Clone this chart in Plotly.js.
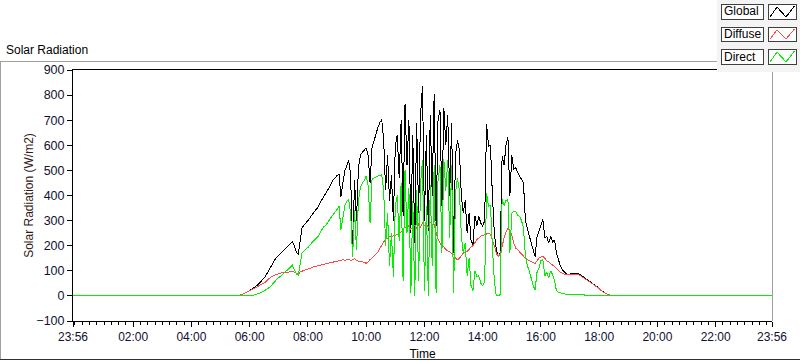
<!DOCTYPE html>
<html>
<head>
<meta charset="utf-8">
<script src="https://cdn.plot.ly/plotly-3.0.1.min.js"></script>
<style>html,body{margin:0;padding:0;background:#fff;}#chart{width:800px;height:361px;}
#chart path.js-line{shape-rendering:crispEdges;}
#chart .shapelayer path{shape-rendering:crispEdges;}
</style>
</head>
<body>
<div id="chart"></div>
<script>
// Time of day in minutes (23:56 of previous day = -4)
const timeMinutes = [-4,
 332,336,340,344,348,352,356,360,364,368,
 372,376,380,384,388,392,396,400,404,408,
 412,416,420,424,428,432,436,440,444,448,
 452,456,460,464,468,472,476,480,484,488,
 492,496,500,504,508,512,516,520,524,528,
 532,536,540,544,548,552,556,560,564,568,
 572,576,580,584,588,592,596,600,604,608,
 612,616,620,624,628,632,636,640,644,648,
 652,656,660,664,668,672,676,680,684,688,
 692,696,700,704,708,712,716,720,724,728,
 732,736,740,744,748,752,756,760,764,768,
 772,776,780,784,788,792,796,800,804,808,
 812,816,820,824,828,832,836,840,844,848,
 852,856,860,864,868,872,876,880,884,888,
 892,896,900,904,908,912,916,920,924,928,
 932,936,940,944,948,952,956,960,964,968,
 972,976,980,984,988,992,996,1000,1004,1008,
 1012,1016,1020,1024,1028,1032,1036,1040,1044,1048,
 1052,1056,1060,1064,1068,1072,1076,1080,1084,1088,
 1092,1096,1100,1104,1108,
 1436];

const globalRad = [0,
 0,1,3,6,9,13,17,21,26,31,
 37,43,50,58,67,77,90,105,120,133,
 145,155,163,170,180,188,196,205,212,217,
 200,175,165,230,273,282,290,298,310,322,
 332,345,352,368,382,397,405,420,432,448,
 462,470,480,484,395,450,500,517,540,480,
 165,460,300,510,560,572,580,590,560,451,
 590,620,650,670,690,703,620,420,560,380,
 480,300,600,640,470,700,320,763,520,700,
 250,640,210,690,330,720,836,300,640,260,
 720,400,803,280,700,740,360,750,600,720,
 400,690,170,560,620,580,400,330,380,250,
 330,220,205,320,280,317,290,277,300,684,
 597,600,400,250,184,157,170,557,520,600,
 631,397,560,504,510,490,477,465,450,300,
 264,240,210,180,157,237,260,290,304,230,
 237,210,237,215,223,170,144,120,104,95,
 88,86,87,89,91,92,91,86,80,74,
 68,63,57,52,47,42,37,31,22,16,
 11,7,4,2,0,
 0];

const diffuseRad = [0,
 0,1,3,6,9,13,16,20,24,28,
 32,36,41,45,50,55,62,70,76,80,
 84,87,89,91,92,93,94,95,96,97,
 95,90,86,95,100,102,104,106,108,112,
 116,118,120,122,123,124,126,128,130,132,
 134,136,140,142,143,144,142,145,146,140,
 143,148,140,140,138,136,133,130,135,145,
 150,157,165,175,190,200,215,225,230,235,
 235,240,240,245,250,255,265,275,270,280,
 265,275,280,270,285,275,290,280,290,270,
 295,280,285,255,225,210,200,195,185,180,
 175,170,165,150,144,150,160,170,175,177,
 185,195,200,215,225,230,238,240,243,248,
 250,245,225,200,170,157,165,200,230,255,
 270,260,240,210,190,184,175,165,155,150,
 145,140,135,132,130,140,150,155,157,150,
 140,135,130,125,117,110,100,95,90,86,
 84,84,84,85,86,86,86,82,77,72,
 66,61,56,51,46,41,36,30,21,15,
 11,7,4,2,0,
 0];

const directRad = [0,
 0,0,0,0,0,0,0,1,2,3,
 5,7,9,13,18,22,27,33,40,50,
 58,66,74,78,86,94,101,110,117,122,
 105,88,82,135,172,180,186,193,203,212,
 218,228,234,248,262,275,280,292,302,316,
 326,335,345,357,264,310,360,377,384,330,
 155,344,184,380,430,450,460,477,440,290,
 464,470,475,477,480,483,420,200,330,120,
 250,77,360,400,220,450,60,500,250,430,
 10,380,0,420,60,450,540,20,360,0,
 440,120,520,10,460,520,170,545,420,540,
 230,520,10,410,470,420,240,170,210,80,
 150,40,20,100,77,80,51,40,55,410,
 357,360,197,60,0,0,5,384,360,380,
 384,170,330,337,337,320,317,300,270,160,
 120,100,70,40,25,95,110,140,144,80,
 95,70,100,85,60,20,15,12,10,8,
 6,5,5,5,6,6,5,5,4,4,
 3,3,2,2,1,1,1,0,0,0,
 0,0,0,0,0,
 0];

const seriesNames = ['Global', 'Diffuse', 'Direct'];
const seriesColors = ['#000000', '#ff4a4a', '#00f000'];
const xTickVals = [-4/60, 2, 4, 6, 8, 10, 12, 14, 16, 18, 20, 22, 23 + 56/60];
const xTickText = ['23:56','02:00','04:00','06:00','08:00','10:00','12:00','14:00','16:00','18:00','20:00','22:00','23:56'];

const hours = timeMinutes.map(m => m / 60);
const seriesData = [globalRad, diffuseRad, directRad];

const traces = seriesData.map((vals, i) => ({
  type: 'scatter', mode: 'lines', x: hours, y: vals, name: seriesNames[i],
  line: {color: seriesColors[i], width: 1}, hoverinfo: 'skip'
}));

// pixel -> paper helpers
const L = 73, R = 772, T = 70, B = 321;
const PX = p => (p - L) / (R - L);
const PY = p => (B - p) / (B - T);
const FONT = 'Liberation Sans, Arial, sans-serif';

const shapes = [];
const annotations = [];

// outer frame
shapes.push({type:'line', xref:'paper', yref:'paper', x0:PX(0), x1:PX(717), y0:PY(61.5), y1:PY(61.5), line:{color:'#a0a0a0', width:1}});
shapes.push({type:'line', xref:'paper', yref:'paper', x0:PX(0.5), x1:PX(0.5), y0:PY(61.5), y1:PY(359.5), line:{color:'#a0a0a0', width:1}});
shapes.push({type:'line', xref:'paper', yref:'paper', x0:PX(0), x1:PX(800), y0:PY(359.5), y1:PY(359.5), line:{color:'#303030', width:1}});
// plot area right border (grey)
shapes.push({type:'line', xref:'paper', yref:'paper', x0:1, x1:1, y0:0, y1:1, line:{color:'#a0a0a0', width:1}});
// legend panel
shapes.push({type:'rect', xref:'paper', yref:'paper', x0:PX(717), x1:PX(801), y0:PY(0), y1:PY(72), fillcolor:'#f4f4f4', line:{width:0}});

const rowTop = [4, 27, 49], rowBot = [19, 41, 64];
seriesNames.forEach((nm, i) => {
  const yt = rowTop[i], yb = rowBot[i];
  shapes.push({type:'rect', xref:'paper', yref:'paper', x0:PX(721), x1:PX(763), y0:PY(yb), y1:PY(yt), fillcolor:'#ffffff', line:{color:'#404040', width:1}});
  shapes.push({type:'rect', xref:'paper', yref:'paper', x0:PX(768), x1:PX(796), y0:PY(yb), y1:PY(yt), fillcolor:'#ffffff', line:{color:'#404040', width:1}});
  const pts = [[770, yb-2], [777, yt+3], [786, yb-2], [794.5, yt+2]];
  const path = 'M' + pts.map(p => PX(p[0]) + ',' + PY(p[1])).join(' L');
  shapes.push({type:'path', xref:'paper', yref:'paper', path: path, line:{color: seriesColors[i], width:1}});
  annotations.push({xref:'paper', yref:'paper', x:PX(722), y:PY((yt+yb)/2), text:nm, showarrow:false, xanchor:'left', yanchor:'middle', font:{family:FONT, size:12, color:'#000'}});
});

annotations.push({xref:'paper', yref:'paper', x:PX(4), y:PY(50), text:'Solar Radiation', showarrow:false, xanchor:'left', yanchor:'middle', font:{family:FONT, size:12, color:'#000'}});

const layout = {
  width: 800, height: 361,
  margin: {l: L, r: 800 - R, t: T, b: 361 - B, pad: 0},
  paper_bgcolor: '#ffffff', plot_bgcolor: '#ffffff',
  showlegend: false,
  font: {family: FONT, size: 12, color: '#000'},
  xaxis: {
    range: [-4/60, 23 + 56/60], tickmode: 'array', tickvals: xTickVals, ticktext: xTickText,
    ticks: 'outside', ticklen: 5, tickcolor: '#000', tickwidth: 1,
    showline: true, linecolor: '#000', linewidth: 1, mirror: true,
    showgrid: false, zeroline: false,
    tickfont: {family: FONT, size: 12, color: '#101030'},
    minor: {tickmode: 'linear', tick0: 0, dtick: 0.25, ticks: 'outside', ticklen: 3, tickcolor: '#000', showgrid: false},
    title: {text: 'Time', font: {family: FONT, size: 12, color: '#000'}, standoff: 6},
    automargin: false
  },
  yaxis: {
    range: [-100, 900], tickmode: 'linear', tick0: -100, dtick: 100,
    ticks: 'outside', ticklen: 5, tickcolor: '#000', tickwidth: 1,
    showline: true, linecolor: '#000', linewidth: 1,
    showgrid: false, zeroline: false,
    tickfont: {family: FONT, size: 12.5, color: '#101030'},
    title: {text: 'Solar Radiation (W/m2)', font: {family: FONT, size: 12, color: '#301818'}, standoff: 0},
    automargin: false
  },
  shapes: shapes,
  annotations: annotations
};

Plotly.newPlot('chart', traces, layout, {displayModeBar: false, staticPlot: true});
</script>
</body>
</html>
